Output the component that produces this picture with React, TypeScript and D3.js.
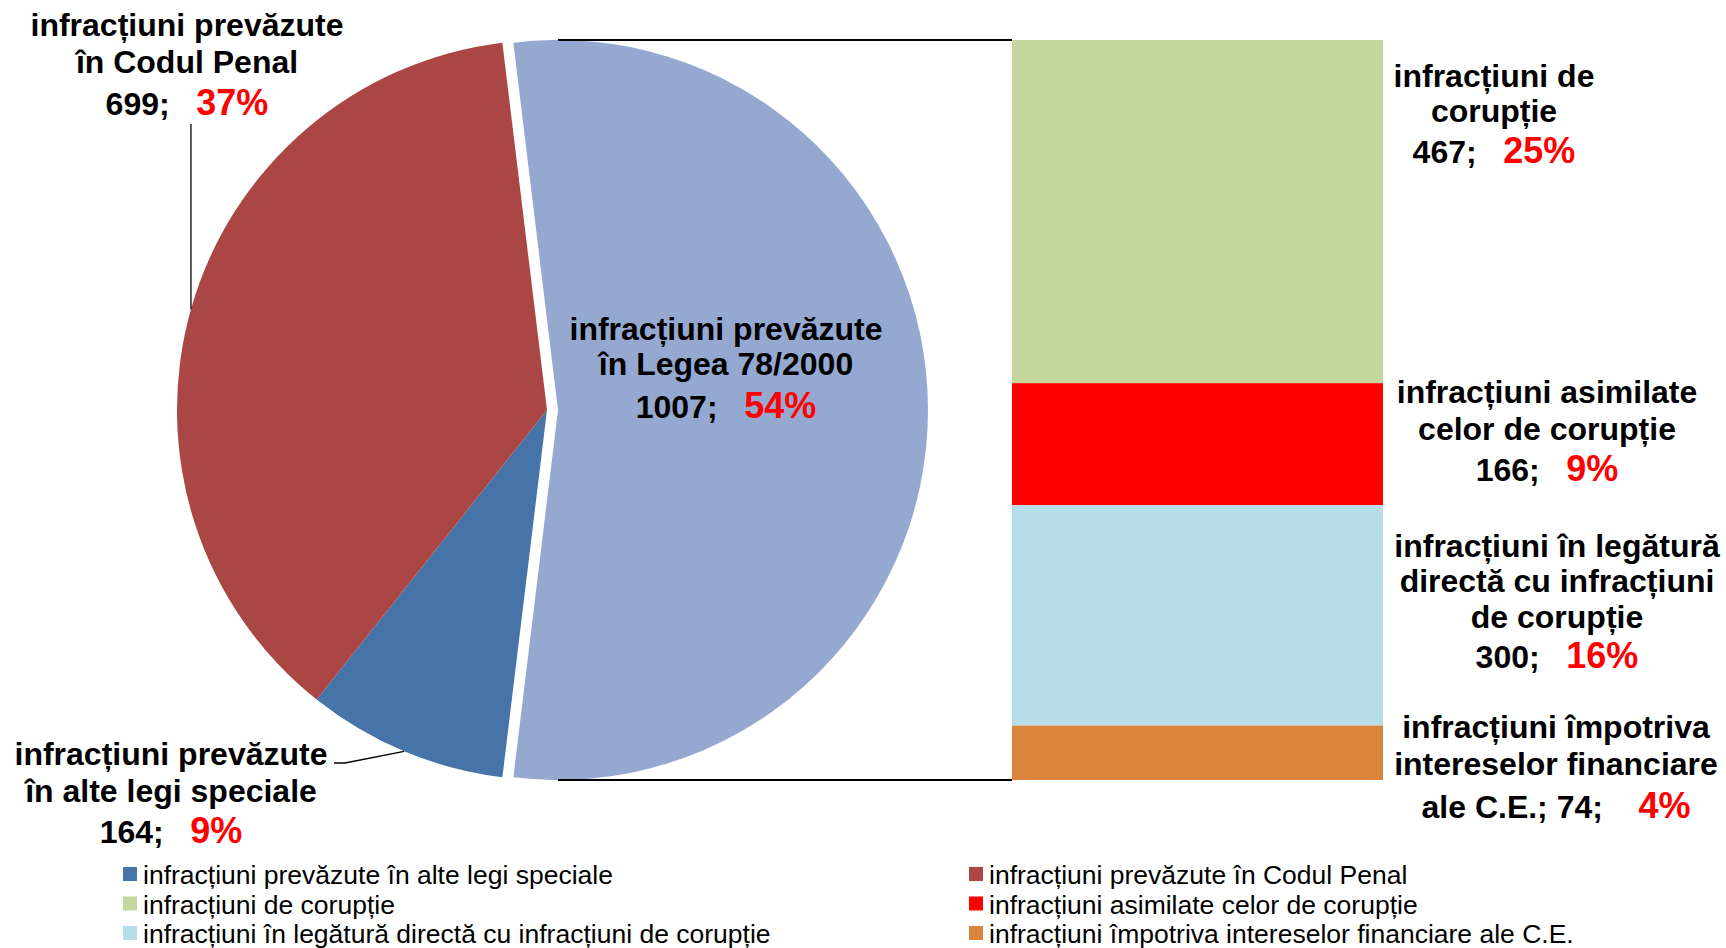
import React from "react";
import * as d3 from "d3";

// ---- data ----
const pieCategories = [
  "infracțiuni prevăzute în Legea 78/2000",
  "infracțiuni prevăzute în alte legi speciale",
  "infracțiuni prevăzute în Codul Penal",
];
const pieValues = [1007, 164, 699];
const piePercents = ["54%", "9%", "37%"];
const pieLabelLines = [
  ["infracțiuni prevăzute", "în Legea 78/2000"],
  ["infracțiuni prevăzute", "în alte legi speciale"],
  ["infracțiuni prevăzute", "în Codul Penal"],
];

const barCategories = [
  "infracțiuni de corupție",
  "infracțiuni asimilate celor de corupție",
  "infracțiuni în legătură directă cu infracțiuni de corupție",
  "infracțiuni împotriva intereselor financiare ale C.E.",
];
const barValues = [467, 166, 300, 74];
const barPercents = ["25%", "9%", "16%", "4%"];
const barLabelLines = [
  ["infracțiuni de", "corupție"],
  ["infracțiuni asimilate", "celor de corupție"],
  ["infracțiuni în legătură", "directă cu infracțiuni", "de corupție"],
  ["infracțiuni împotriva", "intereselor financiare", "ale C.E.;"],
];
const barMergeLast = [false, false, false, true];

// legend order (row-major, two columns)
const legendItems = [
  "infracțiuni prevăzute în alte legi speciale",
  "infracțiuni prevăzute în Codul Penal",
  "infracțiuni de corupție",
  "infracțiuni asimilate celor de corupție",
  "infracțiuni în legătură directă cu infracțiuni de corupție",
  "infracțiuni împotriva intereselor financiare ale C.E.",
];

// ---- styles / layout ----
const FONT = "'Liberation Sans', Arial, Helvetica, sans-serif";
const pieColors = ["#95A9D0", "#4673A8", "#AA4744"];
const barColors = ["#C4D79C", "#FF0000", "#B7DEE8", "#DB843D"];
const colorOf: Record<string, string> = {};
pieCategories.forEach((c, i) => (colorOf[c] = pieColors[i]));
barCategories.forEach((c, i) => (colorOf[c] = barColors[i]));

const W = 1726;
const H = 948;
const cx = 547;
const cy = 410;
const R = 370;
const explode = 11;
const barX0 = 1012;
const barX1 = 1383;

const pieLabelPos = [
  { x: 726, ys: [340, 375, 418] },
  { x: 171, ys: [765, 802, 843] },
  { x: 187, ys: [36, 73, 115] },
];
const barLabelPos = [
  { x: 1494, ys: [87, 122, 163] },
  { x: 1547, ys: [403, 440, 481] },
  { x: 1557, ys: [557, 592, 628, 668] },
  { x: 1556, ys: [738, 775, 818] },
];

const NB = "\u00a0";

function Label({
  x,
  ys,
  lines,
  value,
  pct,
  merge,
}: {
  x: number;
  ys: number[];
  lines: string[];
  value: number;
  pct: string;
  merge: boolean;
}) {
  const nameLines = merge ? lines.slice(0, -1) : lines;
  const lastPrefix = merge ? lines[lines.length - 1] + " " : "";
  const gap = merge ? NB + NB + NB + NB : NB + NB + NB;
  return (
    <g fontFamily={FONT} fontWeight="bold" textAnchor="middle">
      {nameLines.map((l, i) => (
        <text key={i} x={x} y={ys[i]} fontSize={32} fill="#000">
          {l}
        </text>
      ))}
      <text x={x} y={ys[nameLines.length]} fontSize={32} fill="#000">
        <tspan>{`${lastPrefix}${value};${gap}`}</tspan>
        <tspan fill="#FF0000" fontSize={36}>
          {pct}
        </tspan>
      </text>
    </g>
  );
}

export default function App() {
  const total = d3.sum(pieValues);
  const otherSpan = (pieValues[0] / total) * Math.PI * 2;
  const start = Math.PI / 2 - otherSpan / 2;
  const pie = d3
    .pie<number>()
    .sort(null)
    .value((d) => d)
    .startAngle(start)
    .endAngle(start + Math.PI * 2);
  const arcs = pie(pieValues);
  const arcGen = d3.arc<d3.PieArcDatum<number>>().innerRadius(0).outerRadius(R);

  const barTotal = d3.sum(barValues);
  const yScale = d3.scaleLinear().domain([0, barTotal]).range([cy - R, cy + R]);
  const cum = d3.cumsum(barValues);

  const edgePoint = (a: d3.PieArcDatum<number>) => {
    const m = (a.startAngle + a.endAngle) / 2;
    return [cx + R * Math.sin(m), cy - R * Math.cos(m)];
  };
  const pCod = edgePoint(arcs[2]);
  const pAlte = edgePoint(arcs[1]);

  return (
    <svg
      width={W}
      height={H}
      style={{ position: "absolute", left: 0, top: 0, background: "#fff" }}
    >
      <rect x={0} y={0} width={W} height={H} fill="#fff" />
      {/* pie */}
      {arcs.map((a, i) => (
        <path
          key={i}
          d={arcGen(a) || ""}
          fill={pieColors[i]}
          transform={`translate(${cx + (i === 0 ? explode : 0)},${cy})`}
        />
      ))}
      {/* connectors */}
      <line x1={cx + explode} y1={cy - R} x2={barX0} y2={cy - R} stroke="#000" strokeWidth={2} />
      <line x1={cx + explode} y1={cy + R} x2={barX0} y2={cy + R} stroke="#000" strokeWidth={2} />
      {/* bar */}
      {barValues.map((v, i) => (
        <rect
          key={i}
          x={barX0}
          width={barX1 - barX0}
          y={yScale(cum[i] - v)}
          height={yScale(cum[i]) - yScale(cum[i] - v)}
          fill={barColors[i]}
        />
      ))}
      {/* leader lines */}
      <polyline
        points={`${pCod[0]},124 ${pCod[0]},${pCod[1]}`}
        fill="none"
        stroke="#000"
        strokeWidth={1.3}
      />
      <polyline
        points={`334,763 345,763 ${pAlte[0]},${pAlte[1]}`}
        fill="none"
        stroke="#000"
        strokeWidth={1.3}
      />
      {/* labels */}
      {pieValues.map((v, i) => (
        <Label
          key={"p" + i}
          x={pieLabelPos[i].x}
          ys={pieLabelPos[i].ys}
          lines={pieLabelLines[i]}
          value={v}
          pct={piePercents[i]}
          merge={false}
        />
      ))}
      {barValues.map((v, i) => (
        <Label
          key={"b" + i}
          x={barLabelPos[i].x}
          ys={barLabelPos[i].ys}
          lines={barLabelLines[i]}
          value={v}
          pct={barPercents[i]}
          merge={barMergeLast[i]}
        />
      ))}
      {/* legend */}
      <g fontFamily={FONT} fontSize={26.5}>
        {legendItems.map((name, i) => {
          const col = i % 2;
          const row = Math.floor(i / 2);
          const mx = col === 0 ? 123 : 969;
          const base = 884 + row * 29.5;
          return (
            <g key={i}>
              <rect x={mx} y={base - 17} width={14} height={14} fill={colorOf[name]} />
              <text x={mx + 20} y={base} fill="#000">
                {name}
              </text>
            </g>
          );
        })}
      </g>
    </svg>
  );
}
